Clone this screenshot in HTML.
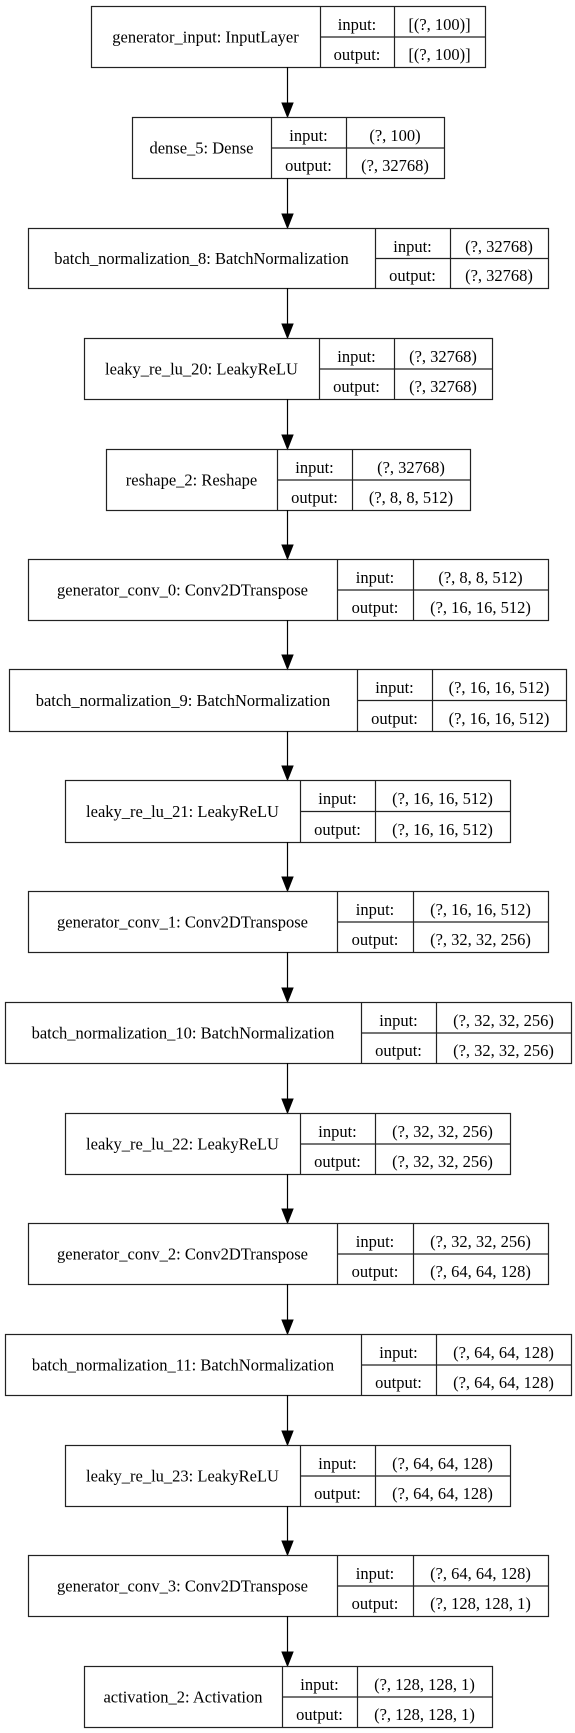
<!DOCTYPE html>
<html><head><meta charset="utf-8"><style>
html,body{margin:0;padding:0;background:#fff;}
svg{display:block;}
text{font-family:"Liberation Serif",serif;font-size:16.5px;fill:#000;}
</style></head><body>
<svg width="575" height="1733" viewBox="0 0 575 1733" xmlns="http://www.w3.org/2000/svg">
<g id="g"></g>
</svg>
<script>
var boxes=[
["generator_input: InputLayer",91,320,394,485,6,67,"[(?, 100)]","[(?, 100)]"],
["dense_5: Dense",132,271,346,444,117,178,"(?, 100)","(?, 32768)"],
["batch_normalization_8: BatchNormalization",28,375,450,548,228,288,"(?, 32768)","(?, 32768)"],
["leaky_re_lu_20: LeakyReLU",84,319,394,492,338,399,"(?, 32768)","(?, 32768)"],
["reshape_2: Reshape",106,277,352,470,449,510,"(?, 32768)","(?, 8, 8, 512)"],
["generator_conv_0: Conv2DTranspose",28,337,413,548,559,620,"(?, 8, 8, 512)","(?, 16, 16, 512)"],
["batch_normalization_9: BatchNormalization",9,357,432,566,669,731,"(?, 16, 16, 512)","(?, 16, 16, 512)"],
["leaky_re_lu_21: LeakyReLU",65,300,375,510,780,842,"(?, 16, 16, 512)","(?, 16, 16, 512)"],
["generator_conv_1: Conv2DTranspose",28,337,413,548,891,952,"(?, 16, 16, 512)","(?, 32, 32, 256)"],
["batch_normalization_10: BatchNormalization",5,361,436,571,1002,1063,"(?, 32, 32, 256)","(?, 32, 32, 256)"],
["leaky_re_lu_22: LeakyReLU",65,300,375,510,1113,1174,"(?, 32, 32, 256)","(?, 32, 32, 256)"],
["generator_conv_2: Conv2DTranspose",28,337,413,548,1223,1284,"(?, 32, 32, 256)","(?, 64, 64, 128)"],
["batch_normalization_11: BatchNormalization",5,361,436,571,1334,1395,"(?, 64, 64, 128)","(?, 64, 64, 128)"],
["leaky_re_lu_23: LeakyReLU",65,300,375,510,1445,1506,"(?, 64, 64, 128)","(?, 64, 64, 128)"],
["generator_conv_3: Conv2DTranspose",28,337,413,548,1555,1616,"(?, 64, 64, 128)","(?, 128, 128, 1)"],
["activation_2: Activation",84,282,357,492,1666,1727,"(?, 128, 128, 1)","(?, 128, 128, 1)"]
];
var s='';
function t(x,y,str){return '<text x="'+x+'" y="'+y+'" text-anchor="middle">'+str+'</text>';}
for(var i=0;i<boxes.length;i++){
 var b=boxes[i],L=b[1],D1=b[2],D2=b[3],R=b[4],T=b[5],B=b[6],M=(T+B)/2;
 s+='<rect x="'+(L+.5)+'" y="'+(T+.5)+'" width="'+(R-L)+'" height="'+(B-T)+'" fill="none" stroke="#222" stroke-width="1.2"/>';
 s+='<line x1="'+(D1+.5)+'" y1="'+T+'" x2="'+(D1+.5)+'" y2="'+B+'" stroke="#222" stroke-width="1.2"/>';
 s+='<line x1="'+(D2+.5)+'" y1="'+T+'" x2="'+(D2+.5)+'" y2="'+B+'" stroke="#222" stroke-width="1.2"/>';
 s+='<line x1="'+D1+'" y1="'+(M+.5)+'" x2="'+R+'" y2="'+(M+.5)+'" stroke="#222" stroke-width="1.2"/>';
 s+=t((L+D1)/2,M+6,b[0]);
 s+=t((D1+D2)/2,T+24,'input:');
 s+=t((D1+D2)/2,B-7,'output:');
 s+=t((D2+R)/2,T+24,b[7]);
 s+=t((D2+R)/2,B-7,b[8]);
 if(i<boxes.length-1){
  var nt=boxes[i+1][5];
  s+='<line x1="287.5" y1="'+B+'" x2="287.5" y2="'+(nt-12)+'" stroke="#000" stroke-width="1.2"/>';
  s+='<polygon points="282,'+(nt-14)+' 293,'+(nt-14)+' 287.5,'+nt+'" fill="#000" stroke="#000"/>';
 }
}
document.getElementById('g').innerHTML=s;
</script>
</body></html>
